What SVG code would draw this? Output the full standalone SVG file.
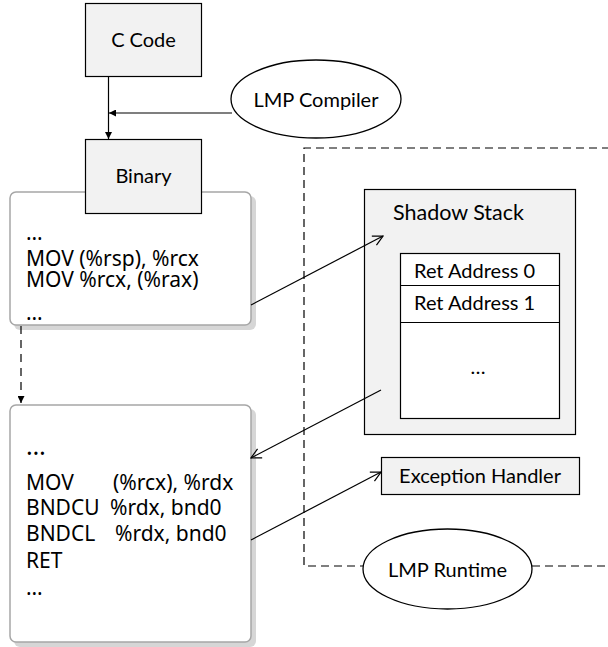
<svg xmlns="http://www.w3.org/2000/svg" width="608" height="647" viewBox="0 0 608 647">
<style>
.box{fill:#f2f2f2;stroke:#000;stroke-width:1.2}
.wbox{fill:#fff;stroke:#000;stroke-width:1.2}
.code{fill:#fff;stroke:#a6a6a6;stroke-width:1.5}
.shadow{fill:#d6d6d6}
.ell{fill:#fff;stroke:#000;stroke-width:1.3}
.lbl{font-family:Lato,"Open Sans",sans-serif;font-size:20px;fill:#000}
.mid{text-anchor:middle}
.asm{font-family:"Noto Sans","Open Sans",sans-serif;font-size:21px;fill:#000}
.ln{fill:none;stroke:#000;stroke-width:1.2}
.dash{fill:none;stroke:#000;stroke-width:1.2;stroke-dasharray:8 5}
</style>
<defs>
<marker id="fill" viewBox="0 0 10 10" refX="10" refY="5" markerWidth="7" markerHeight="7" markerUnits="userSpaceOnUse" orient="auto">
<path d="M0,0 L10,5 L0,10 z" fill="#000"/>
</marker>
<marker id="open" viewBox="0 0 12 12" refX="11" refY="6" markerWidth="12" markerHeight="12" markerUnits="userSpaceOnUse" orient="auto">
<path d="M1,1 L11,6 L1,11" fill="none" stroke="#000" stroke-width="1.2"/>
</marker>
</defs>

<g id="runtime-region">
<path class="dash" d="M610,148 H304 V566 H363"/>
<path class="dash" d="M532,566 H610"/>
</g>

<g id="code-block-1">
<rect class="shadow" x="14" y="196" width="242" height="134" rx="6"/>
<rect class="code" x="10" y="192" width="241" height="133" rx="6"/>
<text class="asm" x="26" y="240">…</text>
<text class="asm" x="26" y="266">MOV (%rsp), %rcx</text>
<text class="asm" x="26" y="287">MOV %rcx, (%rax)</text>
<text class="asm" x="26" y="320">…</text>
</g>

<g id="code-block-2">
<rect class="shadow" x="14" y="409" width="242" height="238" rx="6"/>
<rect class="code" x="10" y="405" width="241" height="237" rx="6"/>
<text class="asm" x="26" y="455" style="font-size:25px">…</text>
<text class="asm" x="26" y="490">MOV</text>
<text class="asm" x="113" y="490">(%rcx), %rdx</text>
<text class="asm" x="26" y="515">BNDCU</text>
<text class="asm" x="110" y="515">%rdx, bnd0</text>
<text class="asm" x="26" y="541">BNDCL</text>
<text class="asm" x="115" y="541">%rdx, bnd0</text>
<text class="asm" x="26" y="568">RET</text>
<text class="asm" x="26" y="595">…</text>
</g>

<g id="c-code">
<rect class="box" x="85.5" y="3.5" width="116" height="73"/>
<text class="lbl mid" x="143.5" y="47">C Code</text>
</g>

<g id="binary">
<rect class="box" x="85.5" y="139.5" width="116" height="74"/>
<text class="lbl mid" x="143.5" y="183">Binary</text>
</g>

<g id="lmp-compiler">
<ellipse class="ell" cx="316" cy="99" rx="85" ry="39"/>
<text class="lbl mid" x="316" y="107">LMP Compiler</text>
</g>

<g id="shadow-stack">
<rect class="box" x="364.5" y="189.5" width="211" height="245"/>
<text class="lbl" x="393" y="220" style="font-size:21.5px">Shadow Stack</text>
<rect class="wbox" x="400.5" y="253.5" width="159" height="165"/>
<line class="ln" x1="400.5" y1="285.5" x2="559.5" y2="285.5"/>
<line class="ln" x1="400.5" y1="322.5" x2="559.5" y2="322.5"/>
<text class="lbl" x="414" y="278">Ret Address 0</text>
<text class="lbl" x="414" y="310">Ret Address 1</text>
<text class="lbl mid" x="478" y="374">…</text>
</g>

<g id="exception-handler">
<rect class="box" x="381.5" y="457.5" width="198" height="37"/>
<text class="lbl mid" x="480" y="483">Exception Handler</text>
</g>

<g id="lmp-runtime">
<ellipse class="ell" cx="447.5" cy="569" rx="84.5" ry="40"/>
<text class="lbl mid" x="447.5" y="577">LMP Runtime</text>
</g>

<g id="connectors">
<line class="ln" x1="108.5" y1="76.5" x2="108.5" y2="139" marker-end="url(#fill)"/>
<line class="ln" x1="232" y1="113" x2="109" y2="113" marker-end="url(#fill)"/>
<line class="dash" x1="21" y1="326" x2="21" y2="403" marker-end="url(#fill)" style="stroke-dasharray:8 6"/>
<line class="ln" x1="251" y1="305" x2="383" y2="236" marker-end="url(#open)"/>
<line class="ln" x1="381" y1="390" x2="251" y2="458" marker-end="url(#open)"/>
<line class="ln" x1="251" y1="540" x2="381" y2="472" marker-end="url(#open)"/>
</g>
</svg>
